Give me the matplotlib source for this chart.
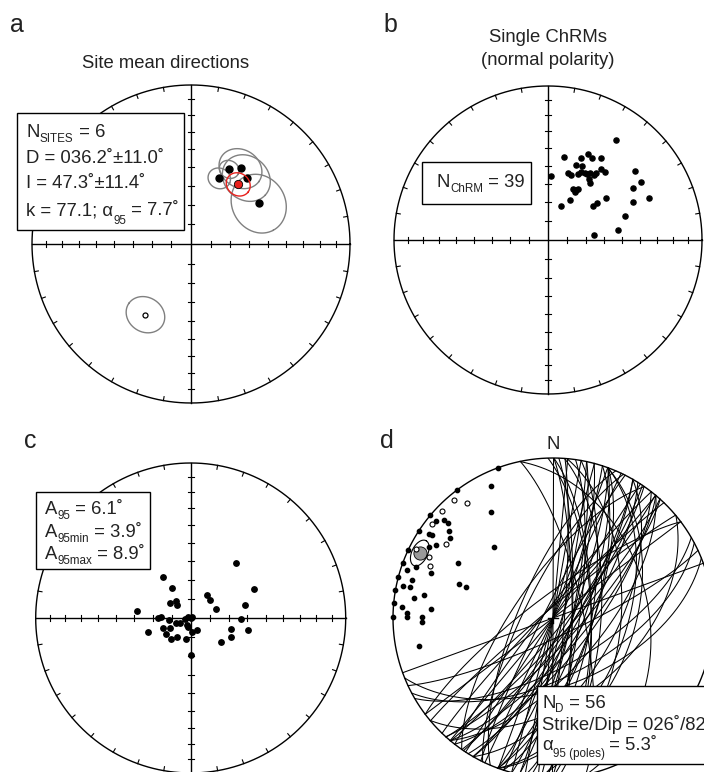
import numpy as np
import matplotlib
matplotlib.use('Agg')
import matplotlib.pyplot as plt
from matplotlib.patches import Rectangle

plt.rcParams['font.family'] = ['Liberation Sans', 'DejaVu Sans']

# ---------------- data ----------------
# (a) site mean directions
site_dec = [27.1, 33.3, 23.3, 40.0, 59.2]
site_inc = [46.2, 42.5, 52.9, 44.7, 48.6]
site_a95 = [4.8, 10.5, 5.5, 12.0, 14.5]
rev_dec = [212.8]
rev_inc = [-45.9]
rev_a95 = [9.5]
mean_dec = 38.4
mean_inc = 50.4
mean_a95 = 6.0

# (b) single ChRMs
chrm_dec = [34.2, 11.1, 22.0, 25.0, 28.3, 33.0, 20.4, 24.6, 36.6, 40.0,
            51.6, 2.9, 16.9, 19.3, 24.6, 28.8, 30.9, 35.5, 35.3, 34.1,
            36.2, 57.9, 58.8, 67.3, 66.2, 25.8, 30.4, 29.4, 28.7, 20.8,
            54.4, 53.0, 52.7, 72.5, 81.9, 83.8, 26.0, 32.0, 29.0]
chrm_inc = [22.6, 44.1, 42.3, 38.1, 39.6, 36.9, 46.7, 46.3, 41.8, 42.2,
            28.7, 55.6, 52.7, 53.2, 50.9, 48.7, 48.8, 47.0, 45.4, 50.5,
            51.9, 29.5, 35.5, 29.5, 39.3, 59.8, 58.7, 60.7, 66.0, 70.6,
            51.5, 57.5, 60.1, 46.5, 51.9, 65.6, 49.5, 47.5, 59.5]

# (c) VGP distribution (azimuth / elevation about mean)
vgp_az = [39.4, 65.0, 326.0, 328.4, 318.6, 305.4, 314.4, 35.6, 46.0, 69.8,
          76.6, 91.5, 102.2, 105.5, 115.0, 128.0, 179.5, 154.0, 175.8, 192.4,
          216.4, 222.2, 236.6, 250.7, 245.2, 250.2, 246.3, 264.6, 270.5, 271.9,
          252.3, 277.4, 256.0, 299.0, 135.0, 205.5, 196.0, 60.0]
vgp_el = [52.3, 53.0, 63.9, 71.7, 78.0, 76.7, 80.2, 75.0, 76.2, 76.0,
          60.3, 63.6, 59.2, 67.9, 66.3, 69.8, 70.4, 82.8, 82.8, 78.6,
          77.5, 75.0, 74.6, 74.7, 77.8, 81.8, 83.8, 78.8, 72.6, 74.3,
          66.2, 61.2, 86.8, 88.4, 89.8, 85.9, 85.1, 89.0]

# (d) poles to dikes (filled: lower hemisphere, open: upper hemisphere)
pole_trend = [340, 335, 323, 329.8, 310, 309.8, 311.9, 312.1, 303.1, 304,
              304.7, 310, 307.9, 320.2, 302, 295.2, 299.9, 290, 290.3, 288,
              290.2, 299.9, 285, 284.9, 282.1, 282.2, 290.1, 289.9, 280.1, 280.1,
              278.1, 275.3, 274.3, 274.1, 272.1, 270.3, 270.3, 268.2, 270.2, 258.2]
pole_plunge = [0, 9.8, 0, 24.4, 0, 5.4, 8.9, 12.8, 0, 7.2,
               9.2, 16.6, 19.5, 41.7, 14.8, 0, 11.7, 0, 9.4, 4.3,
               19.8, 31.8, 0, 9.5, 4.8, 9.4, 37.7, 41.9, 0, 19.5,
               13.4, 0, 5.8, 24.5, 9.8, 9.7, 19.5, 19.5, 0, 15.6]
pole_up_trend = [320, 323, 313.9, 307.9, 304.8, 296.8, 296.1, 293.1]
pole_up_plunge = [-4.5, -11.3, -4.5, -4.7, -19.6, -4.9, -14.8, -17.7]
extra_strike = [348, 20, 5, 30, 68, 62, 40, 18]
extra_dip = [40, 75, 55, 80, 55, 60, 65, 70]
mean_pole_trend = 296.0
mean_pole_plunge = 8.0
mean_pole_a95 = 5.3

# ---------------- helpers ----------------
W, H = 704, 772


def proj(trend, plunge):
    t = np.radians(np.asarray(trend, float))
    p = np.radians(np.abs(np.asarray(plunge, float)))
    r = np.sqrt(2) * np.sin((np.pi / 2 - p) / 2)
    return r * np.sin(t), r * np.cos(t)


def dir2vec(trend, plunge):
    t, p = np.radians(trend), np.radians(plunge)
    return np.array([np.cos(p) * np.sin(t), np.cos(p) * np.cos(t), np.sin(p)])


def vec2dir(v):
    e, n, d = v
    return np.degrees(np.arctan2(e, n)) % 360, np.degrees(np.arcsin(np.clip(d, -1, 1)))


def cone(trend, plunge, a, n=240):
    c = dir2vec(trend, abs(plunge))
    tmp = np.array([0, 0, 1.0]) if abs(c[2]) < 0.9 else np.array([1.0, 0, 0])
    u = np.cross(c, tmp); u /= np.linalg.norm(u)
    w = np.cross(c, u)
    phi = np.linspace(0, 2 * np.pi, n)
    a = np.radians(a)
    pts = np.cos(a) * c[:, None] + np.sin(a) * (np.cos(phi) * u[:, None] + np.sin(phi) * w[:, None])
    tr, pl = vec2dir(pts)
    return proj(tr, pl)


def great_circle(strike, dip, n=300):
    s, d = np.radians(strike), np.radians(dip)
    a = np.array([np.sin(s), np.cos(s), 0.0])
    dd = s + np.pi / 2
    b = np.array([np.sin(dd) * np.cos(d), np.cos(dd) * np.cos(d), np.sin(d)])
    t = np.linspace(0, np.pi, n)
    pts = np.cos(t) * a[:, None] + np.sin(t) * b[:, None]
    tr, pl = vec2dir(pts)
    return proj(tr, pl)


fig = plt.figure(figsize=(W / 100, H / 100), dpi=100)


def panel(cx, cy, R):
    ax = fig.add_axes([(cx - R) / W, (H - cy - R) / H, 2 * R / W, 2 * R / H])
    ax.set_xlim(-1, 1); ax.set_ylim(-1, 1)
    ax.axis('off')
    ax.R = R
    return ax


def frame(ax, axes_ticks=True):
    R = ax.R
    th = np.linspace(0, 2 * np.pi, 721)
    ax.plot(np.cos(th), np.sin(th), color='k', lw=1.0, clip_on=False, zorder=2)
    if not axes_ticks:
        return
    L = 4.0 / R
    for az in range(0, 360, 10):
        if az % 90 == 0:
            continue
        t = np.radians(az)
        ax.plot([np.sin(t), (1 - L) * np.sin(t)], [np.cos(t), (1 - L) * np.cos(t)],
                color='k', lw=0.8, clip_on=False, zorder=2)
    ax.plot([-1, 1], [0, 0], color='k', lw=1.0, clip_on=False, zorder=2)
    ax.plot([0, 0], [-1, 1], color='k', lw=1.0, clip_on=False, zorder=2)
    rs = np.sqrt(2) * np.sin(np.radians(90 - np.arange(10, 90, 10)) / 2)
    h = 3.0 / R
    for r in rs:
        for s in (-1, 1):
            ax.plot([s * r, s * r], [-h, h], color='k', lw=0.8, clip_on=False, zorder=2)
            ax.plot([-h, h], [s * r, s * r], color='k', lw=0.8, clip_on=False, zorder=2)


# ---------------- panel a ----------------
axa = panel(191, 244, 159)
frame(axa)
for d, i, a95 in zip(site_dec, site_inc, site_a95):
    x, y = cone(d, i, a95)
    axa.plot(x, y, color='#808080', lw=1.0, zorder=3)
for d, i, a95 in zip(rev_dec, rev_inc, rev_a95):
    x, y = cone(d, i, a95)
    axa.plot(x, y, color='#808080', lw=1.0, zorder=3)
x, y = proj(site_dec, site_inc)
axa.plot(x, y, 'o', ms=5.0, mfc='k', mec='k', zorder=4)
x, y = proj(rev_dec, rev_inc)
axa.plot(x, y, 'o', ms=3.6, mfc='white', mec='k', mew=0.9, zorder=4)
x, y = cone(mean_dec, mean_inc, mean_a95)
axa.plot(x, y, color='#e8211d', lw=1.0, zorder=5)
x, y = proj([mean_dec], [mean_inc])
axa.plot(x, y, 'o', ms=6.0, mfc='#e8211d', mec='k', mew=0.6, zorder=6)

# ---------------- panel b ----------------
axb = panel(548, 240, 154)
frame(axb)
x, y = proj(chrm_dec, chrm_inc)
axb.plot(x, y, 'o', ms=3.7, mfc='k', mec='k', zorder=4)

# ---------------- panel c ----------------
axc = panel(190.7, 618, 155)
frame(axc)
x, y = proj(vgp_az, vgp_el)
axc.plot(x, y, 'o', ms=3.9, mfc='k', mec='k', zorder=4)

# ---------------- panel d ----------------
axd = panel(553, 618, 160)
frame(axd, axes_ticks=False)
planes = [((t + 90) % 360, 90 - p) for t, p in zip(pole_trend, pole_plunge)]
planes += [((t - 90) % 360, 90 - abs(p)) for t, p in zip(pole_up_trend, pole_up_plunge)]
planes += list(zip(extra_strike, extra_dip))
for s, dp in planes:
    x, y = great_circle(s, dp)
    axd.plot(x, y, color='k', lw=0.75, zorder=2)
c = 5.0 / 160
axd.plot([-c, c], [0, 0], color='k', lw=1.0, zorder=3)
axd.plot([0, 0], [-c, c], color='k', lw=1.0, zorder=3)
x, y = proj([mean_pole_trend], [mean_pole_plunge])
axd.plot(x, y, 'o', ms=9.5, mfc='#9a9a9a', mec='k', mew=0.6, zorder=5)
x, y = cone(mean_pole_trend, mean_pole_plunge, mean_pole_a95)
axd.plot(x, y, color='k', lw=0.8, zorder=5)
x, y = proj(pole_trend, pole_plunge)
axd.plot(x, y, 'o', ms=3.1, mfc='k', mec='k', zorder=6, clip_on=False)
x, y = proj(pole_up_trend, pole_up_plunge)
axd.plot(x, y, 'o', ms=3.6, mfc='white', mec='k', mew=0.8, zorder=6, clip_on=False)

# ---------------- overlay (text, boxes) ----------------
ov = fig.add_axes([0, 0, 1, 1], zorder=10)
ov.set_xlim(0, W); ov.set_ylim(H, 0)
ov.axis('off')
ov.patch.set_alpha(0)
FS = 13.3
SS = 8.4
TC = '#222222'
renderer = fig.canvas.get_renderer()


def twidth(t, fs):
    a = ov.text(0, 0, 'x' + t + 'x', fontsize=fs)
    b = ov.text(0, 0, 'xx', fontsize=fs)
    w = a.get_window_extent(renderer).width - b.get_window_extent(renderer).width
    a.remove(); b.remove()
    return w


def rich(x, y, runs, ha='left'):
    widths = [twidth(t, fs) for t, fs, dy in runs]
    x0 = x - sum(widths) if ha == 'right' else x
    for (t, fs, dy), w in zip(runs, widths):
        ov.text(x0, y + dy, t, fontsize=fs, ha='left', va='baseline', color=TC)
        x0 += w


def box(x0, y0, x1, y1):
    ov.add_patch(Rectangle((x0, y0), x1 - x0, y1 - y0, facecolor='white',
                           edgecolor='k', lw=1.0, clip_on=False))


for lbl, x, y in [('a', 10, 32), ('b', 383, 32), ('c', 24, 448), ('d', 380, 448)]:
    ov.text(x, y, lbl, fontsize=18, va='baseline', ha='left', color=TC)

ov.text(165.5, 68.3, 'Site mean directions', fontsize=FS, ha='center', va='baseline', color=TC)
ov.text(548, 41.7, 'Single ChRMs', fontsize=FS, ha='center', va='baseline', color=TC)
ov.text(548, 65, '(normal polarity)', fontsize=FS, ha='center', va='baseline', color=TC)
ov.text(553, 449, 'N', fontsize=FS, ha='center', va='baseline', color=TC)

box(17.3, 112.7, 184, 230)
rich(26.5, 137, [('N', FS, 0), ('SITES', SS, 4.7), (' = 6', FS, 0)])
rich(26.5, 163, [('D = 036.2˚±11.0˚', FS, 0)])
rich(26.5, 188.5, [('I = 47.3˚±11.4˚', FS, 0)])
rich(26.5, 215, [('k = 77.1; α', FS, 0), ('95', SS, 9), (' = 7.7˚', FS, 0)])

box(422, 161.7, 531, 204)
rich(525, 186.7, [('N', FS, 0), ('ChRM', SS, 5), (' = 39', FS, 0)], ha='right')

box(35.7, 492, 150.3, 569.3)
rich(45, 514.3, [('A', FS, 0), ('95', SS, 5), (' = 6.1˚', FS, 0)])
rich(45, 536.7, [('A', FS, 0), ('95min', SS, 5), (' = 3.9˚', FS, 0)])
rich(45, 559.3, [('A', FS, 0), ('95max', SS, 5), (' = 8.9˚', FS, 0)])

box(537, 686, 720, 764)
rich(542, 707.5, [('N', FS, 0), ('D', SS, 5), (' = 56', FS, 0)])
rich(542, 730, [('Strike/Dip = 026˚/82˚', FS, 0)])
rich(542, 750, [('α', FS, 0), ('95 (poles)', SS, 7), (' = 5.3˚', FS, 0)])

fig.savefig('out.png', dpi=100)
